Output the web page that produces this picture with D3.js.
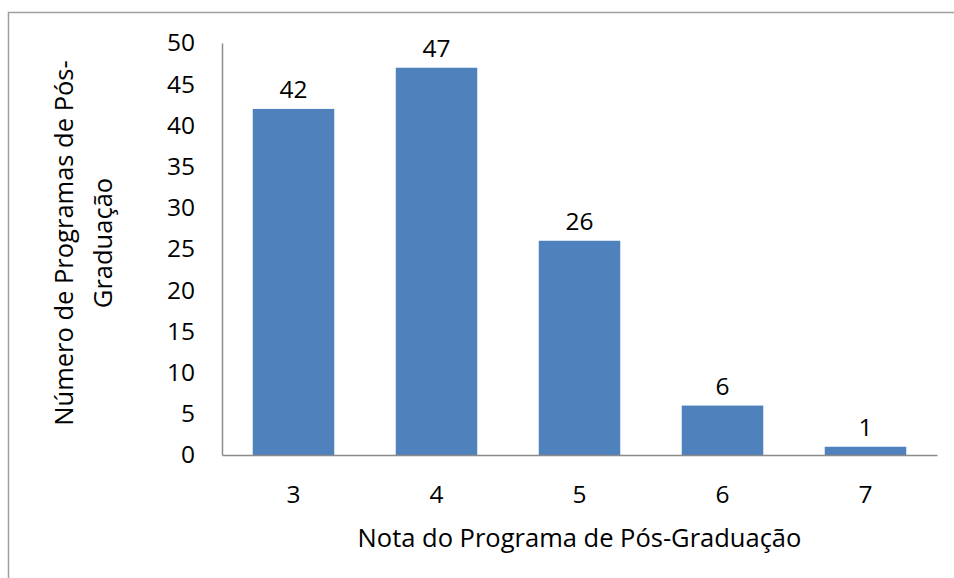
<!DOCTYPE html>
<html>
<head>
<meta charset="utf-8">
<script src="https://cdn.jsdelivr.net/npm/d3@7"></script>
<style>
  html, body { margin: 0; padding: 0; background: #fff; }
  svg { display: block; }
  text { font-family: "Open Sans", Lato, sans-serif; fill: #000; }
</style>
</head>
<body>
<svg id="chart" width="954" height="578"></svg>
<script>
const categories = ["3", "4", "5", "6", "7"];
const values = [42, 47, 26, 6, 1];
const yTicks = [0, 5, 10, 15, 20, 25, 30, 35, 40, 45, 50];
const xTitle = "Nota do Programa de Pós-Graduação";
const yTitleLines = ["Número de Programas de Pós-", "Graduação"];

const FONT = "'Open Sans', Lato, sans-serif";
const svg = d3.select("#chart");
const W = 954, H = 578;
const plot = { left: 222, right: 937, top: 43, bottom: 455 };

// outer border
svg.append("rect")
  .attr("x", 8.5).attr("y", 12.5)
  .attr("width", W + 10).attr("height", H + 10)
  .attr("fill", "none").attr("stroke", "#a0a0a0").attr("stroke-width", 1.5);

const x = d3.scaleBand().domain(categories).range([plot.left, plot.right])
  .paddingInner(0.43).paddingOuter(0.215);
const y = d3.scaleLinear().domain([0, 50]).range([plot.bottom, plot.top]);

// bars
svg.append("g").selectAll("rect").data(values).join("rect")
  .attr("x", (d, i) => x(categories[i]))
  .attr("y", d => y(d))
  .attr("width", x.bandwidth())
  .attr("height", d => y(0) - y(d))
  .attr("fill", "#4F81BD");

// value labels
svg.append("g").selectAll("text").data(values).join("text")
  .attr("x", (d, i) => x(categories[i]) + x.bandwidth() / 2)
  .attr("y", d => y(d) - 11)
  .attr("text-anchor", "middle")
  .attr("font-size", 24.5)
  .text(d => d);

// y axis
const yAxis = d3.axisLeft(y).tickValues(yTicks).tickSize(0).tickPadding(27);
const gy = svg.append("g").attr("transform", `translate(${plot.left},0)`).call(yAxis);
gy.select(".domain").attr("stroke", "#8c8c8c").attr("stroke-width", 1.5);
gy.selectAll("text").attr("font-size", 24.5).attr("font-family", FONT).attr("fill", "#000");

// x axis
const xAxis = d3.axisBottom(x).tickSize(0).tickPadding(31);
const gx = svg.append("g").attr("transform", `translate(0,${plot.bottom})`).call(xAxis);
gx.select(".domain").attr("stroke", "#8c8c8c").attr("stroke-width", 1.5);
gx.selectAll("text").attr("font-size", 24.5).attr("font-family", FONT).attr("fill", "#000");

// x title
svg.append("text")
  .attr("x", (plot.left + plot.right) / 2)
  .attr("y", 547)
  .attr("text-anchor", "middle")
  .attr("font-size", 25.5)
  .text(xTitle);

// y title
const yt = svg.append("text")
  .attr("transform", "translate(73,243) rotate(-90)")
  .attr("text-anchor", "middle")
  .attr("font-size", 25.5);
yTitleLines.forEach((line, i) => {
  yt.append("tspan").attr("x", 0).attr("y", i * 39).text(line);
});
</script>
</body>
</html>
